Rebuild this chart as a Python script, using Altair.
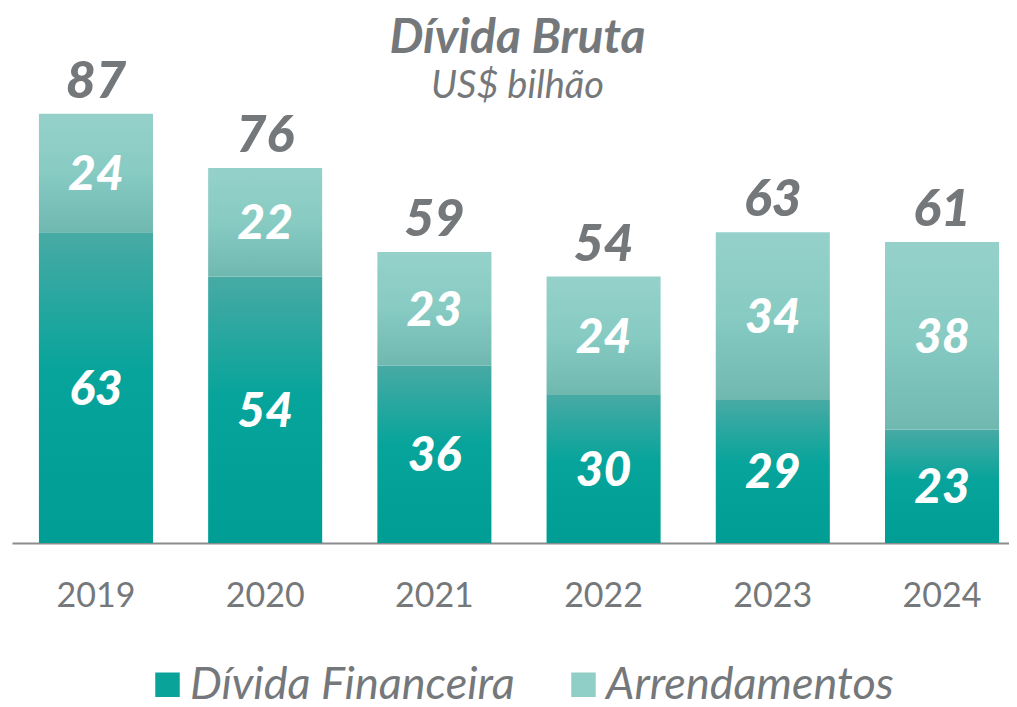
import altair as alt
import pandas as pd

years = ["2019", "2020", "2021", "2022", "2023", "2024"]
financeira = [63, 54, 36, 30, 29, 23]
arrendamentos = [24, 22, 23, 24, 34, 38]
totals = [87, 76, 59, 54, 63, 61]
series_names = ["Dívida Financeira", "Arrendamentos"]
series_colors = ["#0aa39a", "#8fcfc7"]

GRAY = "#75787b"
FONT = "Lato"

df = pd.DataFrame({
    "ano": years,
    "fin": financeira,
    "arr": arrendamentos,
    "total": totals,
})
df_leg = pd.DataFrame({"serie": series_names})

x_enc = alt.X(
    "ano:N",
    sort=years,
    scale=alt.Scale(paddingInner=0.326, paddingOuter=0.109, align=0.73),
    axis=alt.Axis(
        title=None, labelAngle=0, ticks=False, domainColor="#8a8c8e", domainWidth=2,
        labelFont=FONT, labelFontSize=34, labelColor=GRAY, labelPadding=36,
        labelFontWeight="normal",
    ),
)
y_scale = alt.Scale(domain=[0, 90], nice=False, zero=True)

grad_fin = alt.Gradient(
    gradient="linear",
    stops=[
        alt.GradientStop(offset=0, color="#48aaa4"),
        alt.GradientStop(offset=0.45, color="#06a49b"),
        alt.GradientStop(offset=1, color="#009d94"),
    ],
    x1=0, x2=0, y1=0, y2=1,
)
grad_arr = alt.Gradient(
    gradient="linear",
    stops=[
        alt.GradientStop(offset=0, color="#95d1ca"),
        alt.GradientStop(offset=0.5, color="#87cbc3"),
        alt.GradientStop(offset=1, color="#6fb8b0"),
    ],
    x1=0, x2=0, y1=0, y2=1,
)

base = alt.Chart(df).transform_calculate(
    zero="0",
    mid_fin="datum.fin / 2",
    mid_arr="datum.fin + datum.arr / 2",
)

bar_fin = base.mark_bar(fill=grad_fin).encode(
    x=x_enc,
    y=alt.Y("zero:Q", scale=y_scale, axis=None),
    y2="fin:Q",
)
bar_arr = base.mark_bar(fill=grad_arr).encode(
    x=x_enc,
    y=alt.Y("fin:Q", scale=y_scale, axis=None),
    y2="total:Q",
)

lbl_style = dict(font=FONT, fontSize=48, fontWeight=900, fontStyle="italic",
                 color="white", baseline="middle", align="center", dy=3)
txt_fin = base.mark_text(**lbl_style).encode(
    x=x_enc, y=alt.Y("mid_fin:Q", scale=y_scale, axis=None), text="fin:Q"
)
txt_arr = base.mark_text(**lbl_style).encode(
    x=x_enc, y=alt.Y("mid_arr:Q", scale=y_scale, axis=None), text="arr:Q"
)
txt_tot = base.mark_text(
    font=FONT, fontSize=52, fontWeight=900, fontStyle="italic",
    color=GRAY, baseline="alphabetic", align="center", dy=-16,
).encode(
    x=x_enc, y=alt.Y("total:Q", scale=y_scale, axis=None), text="total:Q"
)

legend_layer = alt.Chart(df_leg).mark_square(opacity=0).encode(
    color=alt.Color(
        "serie:N",
        sort=series_names,
        scale=alt.Scale(domain=series_names, range=series_colors),
        legend=alt.Legend(
            title=None, orient="none", legendX=133, legendY=563,
            direction="horizontal", symbolType="square", symbolSize=600,
            symbolOpacity=1, symbolStrokeWidth=0,
            labelFont=FONT, labelFontStyle="italic", labelFontSize=45,
            labelColor=GRAY, labelOffset=0, columnPadding=46, padding=0,
            labelLimit=0,
        ),
    )
)

chart = alt.layer(bar_fin, bar_arr, txt_fin, txt_arr, txt_tot, legend_layer).properties(
    width=997,
    height=444,
    autosize=alt.AutoSizeParams(type="none"),
    padding={"left": 4, "top": 91, "right": 0, "bottom": 156},
    title=alt.TitleParams(
        text="Dívida Bruta",
        subtitle="US$ bilhão",
        anchor="middle",
        dx=7,
        offset=-50,
        font=FONT, fontSize=48, fontWeight="bold", fontStyle="italic", color=GRAY,
        subtitleFont=FONT, subtitleFontSize=38, subtitleFontStyle="italic",
        subtitleColor=GRAY, subtitlePadding=5,
    ),
).configure_view(stroke=None)

chart.save("out.html", embed_options={"renderer": "svg", "actions": False})
